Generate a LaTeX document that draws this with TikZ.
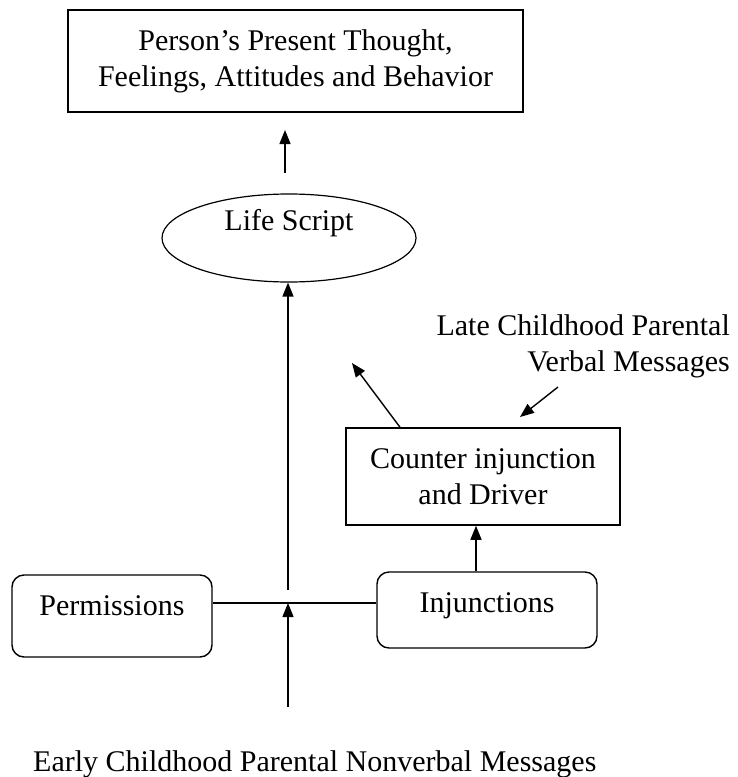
\documentclass[tikz,border=0pt]{standalone}
\usepackage{fontspec}
\setmainfont{Liberation Serif}
\usetikzlibrary{arrows.meta,shapes.geometric}
\begin{document}
\begin{tikzpicture}[x=1pt,y=-1pt,
  every node/.style={font=\fontsize{30}{36}\selectfont,inner sep=0pt},
  line/.style={line width=1.4pt},
  arr/.style={line width=1.4pt,-{Triangle[length=14pt,width=11pt]}},
  sqbox/.style={draw,line width=1.5pt,align=center},
  rbox/.style={draw,line width=1.4pt,rounded corners=12pt},
]
\useasboundingbox (0,0) rectangle (738,777);
\node[sqbox,minimum width=455pt,minimum height=102pt] (top) at (295.5,61) {Person's Present Thought,\\Feelings, Attitudes and Behavior};
\node[draw,ellipse,line width=1.2pt,minimum width=254pt,minimum height=88pt,text height=20pt,text depth=36pt] (ls) at (289,238) {Life Script};
\node[sqbox,minimum width=274pt,minimum height=97pt] (cnt) at (483,476.5) {Counter injunction\\and Driver};
\node[rbox,minimum width=200pt,text height=40pt,text depth=42pt] (perm) at (112,616) {Permissions};
\node[rbox,minimum width=220pt,text height=40pt,text depth=36pt] (inj) at (487,610) {Injunctions};
\node[align=right,anchor=east] (late) at (730,346) {Late Childhood Parental\\Verbal Messages};
\node[anchor=base west] (early) at (33,771) {Early Childhood Parental Nonverbal Messages};

\coordinate (a1s) at (285,173);
\coordinate (a1e) at (285,130);
\coordinate (cross) at (288,603);
\coordinate (bot) at (288,707);
\coordinate (up) at (288,590);
\coordinate (ic) at (476,0);
\coordinate (cl) at (352,363);
\coordinate (ls1) at (558,387);
\coordinate (ls2) at (520,417);

\draw[arr] (a1s) -- (a1e);
\draw[arr] (up) -- (up |- ls.south);
\draw[line] (perm.east |- cross) -- (inj.west |- cross);
\draw[arr] (bot) -- (cross);
\draw[arr] (inj.north -| ic) -- (cnt.south -| ic);
\draw[arr] ([xshift=-83pt]cnt.north) -- (cl);
\draw[arr] (ls1) -- (ls2);
\end{tikzpicture}
\end{document}
